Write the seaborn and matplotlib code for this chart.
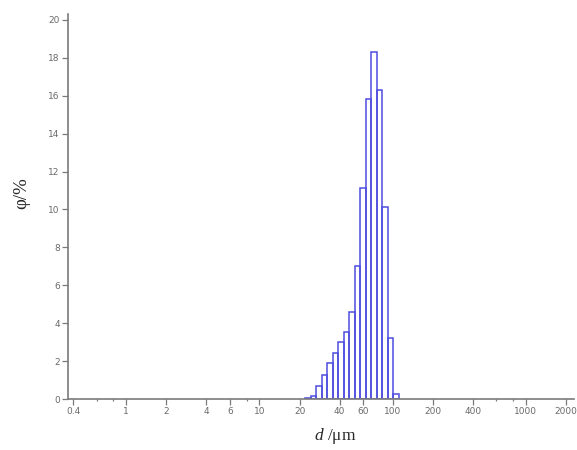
import numpy as np
import pandas as pd
import matplotlib
matplotlib.use("Agg")
import matplotlib.pyplot as plt
import seaborn as sns
from matplotlib.ticker import FixedLocator, NullFormatter

# Particle size classes (μm): bin edges of the volume distribution
bin_edges = [22.0, 24.2, 26.6, 29.3, 32.2, 35.4, 39.0, 42.9, 47.2, 51.9,
             57.1, 62.8, 69.1, 76.0, 83.6, 92.0, 101.2, 111.3]
# Volume fraction per class (%)
fractions = [0.05, 0.17, 0.68, 1.26, 1.88, 2.45, 3.0, 3.55, 4.6, 7.0,
             11.15, 15.85, 18.3, 16.3, 10.15, 3.2, 0.28]

x_ticks = [0.4, 1, 2, 4, 6, 10, 20, 40, 60, 100, 200, 400, 1000, 2000]
x_tick_labels = ["0.4", "1", "2", "4", "6", "10", "20", "40", "60", "100",
                 "200", "400", "1000", "2000"]
x_minor = [0.6, 0.8, 8, 600, 800]
y_ticks = list(range(0, 21, 2))

edges = np.array(bin_edges)
df = pd.DataFrame({
    "size": np.sqrt(edges[:-1] * edges[1:]),
    "fraction": fractions,
})

sns.set_style("white")
plt.rcParams["mathtext.fontset"] = "custom"
plt.rcParams["mathtext.rm"] = "Liberation Serif"
plt.rcParams["mathtext.it"] = "Liberation Serif:italic"

fig = plt.figure(figsize=(5.77, 4.5), dpi=100)
ax = fig.add_axes([0.118, 0.1133, 0.877, 0.855])

sns.histplot(data=df, x="size", weights="fraction", bins=list(bin_edges),
             stat="count", fill=False, element="bars", color="#4d4de0",
             linewidth=1.1, ax=ax)
ax.set_xscale("log")

ax.set_xlim(0.366, 2300)
ax.set_ylim(0, 20.3)

ax.xaxis.set_major_locator(FixedLocator(x_ticks))
ax.set_xticklabels(x_tick_labels)
ax.xaxis.set_minor_locator(FixedLocator(x_minor))
ax.xaxis.set_minor_formatter(NullFormatter())
ax.set_yticks(y_ticks)
ax.set_yticklabels([str(v) for v in y_ticks])

grey = "#7a7a7a"
for side in ("top", "right"):
    ax.spines[side].set_visible(False)
for side in ("left", "bottom"):
    ax.spines[side].set_color(grey)
    ax.spines[side].set_linewidth(1.2)

ax.tick_params(axis="both", which="major", direction="out", length=4,
               width=0.9, color=grey, labelcolor="#6a6a6a", labelsize=6.5,
               pad=2, bottom=True, left=True)
ax.tick_params(axis="x", which="minor", direction="out", length=1.5,
               width=0.9, color=grey, bottom=True)

serif = ["Liberation Serif", "DejaVu Serif"]
ax.set_xlabel(r"$d$ /μm", family=serif, fontsize=12.5)
ax.set_ylabel("φ/%", family=serif, fontsize=13.5)
ax.xaxis.set_label_coords(0.528, -0.07)
ax.yaxis.set_label_coords(-0.075, 0.535)

fig.savefig("out.png", dpi=100, facecolor="white")
